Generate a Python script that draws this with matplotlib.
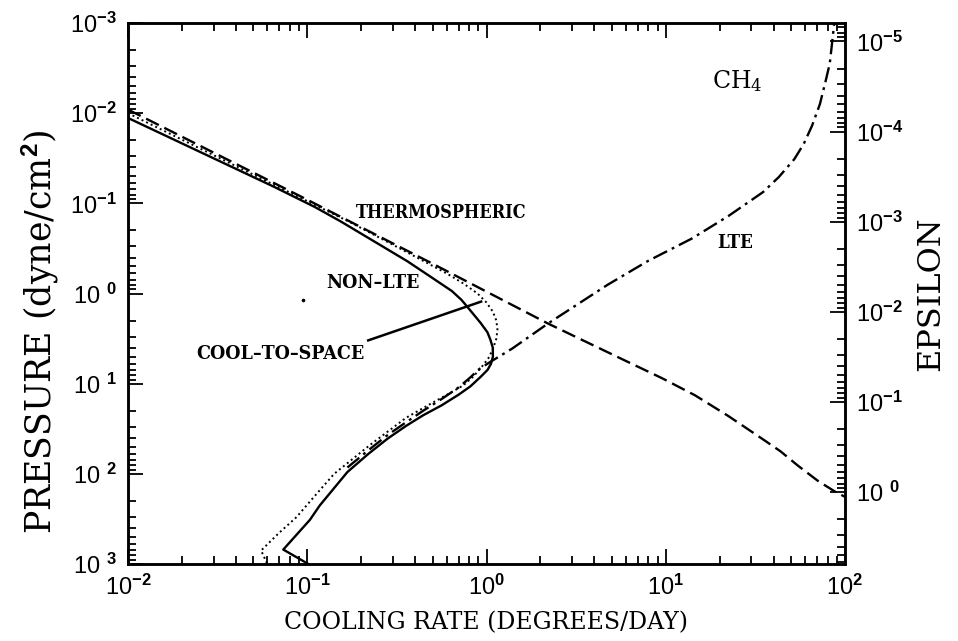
import matplotlib
matplotlib.use("Agg")
import matplotlib.pyplot as plt
from matplotlib.ticker import LogLocator, NullFormatter

plt.rcParams['mathtext.fontset'] = 'custom'
plt.rcParams['mathtext.rm'] = 'Liberation Sans'
plt.rcParams['mathtext.bf'] = 'Liberation Sans:bold'
plt.rcParams['mathtext.it'] = 'DejaVu Serif'

# ---- data (cooling rate [deg/day], pressure [dyne/cm^2]) ----
nonlte_rate = [0.0100, 0.0655, 0.1100, 0.1535, 0.2399, 0.3622, 0.5012, 0.6412,
               0.7244, 0.7834, 0.9268, 1.012, 1.052, 1.084, 1.086, 1.059, 1.014,
               0.9268, 0.8128, 0.7015, 0.5623, 0.4436, 0.3548, 0.2805, 0.2188,
               0.1675, 0.1175, 0.1035, 0.0735, 0.1014]
nonlte_p = [0.0113, 0.0658, 0.1096, 0.1585, 0.2692, 0.4395, 0.6761, 0.9397,
            1.175, 1.413, 2.118, 2.692, 3.266, 3.981, 5.012, 6.026, 7.031,
            8.414, 10.72, 13.18, 17.38, 22.39, 29.51, 40.74, 60.26,
            95.5, 223.9, 323.6, 691.8, 1000]

cts_rate = [0.0100, 0.0631, 0.1698, 0.2818, 0.4266, 0.6026, 0.7447, 0.8913,
            1.000, 1.084, 1.135, 1.151, 1.135, 1.084, 1.023, 0.9441, 0.8453,
            0.7413, 0.6310, 0.5012, 0.3548, 0.2239, 0.1413, 0.1096, 0.0871,
            0.0692, 0.0553, 0.0598]
cts_p = [0.0100, 0.0603, 0.1585, 0.2692, 0.4169, 0.6026, 0.7762, 1.000,
         1.259, 1.585, 1.995, 2.512, 3.162, 4.169, 5.248, 6.457, 8.318,
         10.47, 12.59, 16.22, 23.99, 47.86, 100.0, 177.8, 302.0,
         457.0, 708.0, 1000]

thermo_rate = [0.0100, 0.100, 0.501, 2.203, 3.715, 6.166, 9.55, 14.59, 22.39,
               34.43, 43.65, 54.45, 70.79, 89.13, 100]
thermo_p = [0.00912, 0.0912, 0.468, 2.153, 3.548, 5.754, 8.71, 13.49, 22.91,
            40.74, 56.23, 80.72, 120.2, 160.0, 180.0]

lte_rate = [0.1675, 0.2188, 0.2805, 0.3548, 0.4436, 0.5623, 0.7015, 0.8128,
            0.9078, 1.047, 1.393, 2.203, 4.732, 7.943, 14.0, 22.39, 34.91,
            42.66, 52.12, 58.88, 65.46, 72.44, 77.62, 82.22, 84.72, 87.1]
lte_p = [85.11, 54.95, 37.15, 26.92, 19.95, 14.79, 10.96, 8.511,
         6.918, 5.754, 4.074, 2.153, 0.8017, 0.4365, 0.2455, 0.138, 0.075,
         0.0513, 0.0324, 0.0219, 0.0138, 0.00794, 0.00457, 0.00282, 0.00166, 0.0010]

pointer_rate = [0.2188, 0.933]
pointer_p = [3.311, 1.23]

speck_rate = [0.095]
speck_p = [1.18]

eps_scale = 160.0  # epsilon = pressure / eps_scale

xticks = [1e-2, 1e-1, 1e0, 1e1, 1e2]
xticklabels = [r'10$^{\mathbf{-2}}$', r'10$^{\mathbf{-1}}$', r'10$^{\mathbf{0}}$',
               r'10$^{\mathbf{1}}$', r'10$^{\mathbf{2}}$']
pticks = [1e-3, 1e-2, 1e-1, 1e0, 1e1, 1e2, 1e3]
pticklabels = [r'10$^{\mathbf{-3}}$', r'10$^{\mathbf{-2}}$', r'10$^{\mathbf{-1}}$',
               r'10 $^{\mathbf{0}}$', r'10 $^{\mathbf{1}}$', r'10 $^{\mathbf{2}}$',
               r'10 $^{\mathbf{3}}$']
eticks = [1e-5, 1e-4, 1e-3, 1e-2, 1e-1, 1e0]
eticklabels = [r'10$^{\mathbf{-5}}$', r'10$^{\mathbf{-4}}$', r'10$^{\mathbf{-3}}$',
               r'10$^{\mathbf{-2}}$', r'10$^{\mathbf{-1}}$', r'10 $^{\mathbf{0}}$']

# ---- figure ----
fig = plt.figure(figsize=(9.58, 6.41), dpi=100)
ax = fig.add_axes([128/958, 1-564/641, (845-128)/958, (564-23)/641])
ax.set_xscale('log')
ax.set_yscale('log')
ax.set_xlim(1e-2, 1e2)
ax.set_ylim(1e3, 1e-3)

lw = 1.7
ax.plot(nonlte_rate, nonlte_p, color='black', lw=lw)
ax.plot(cts_rate, cts_p, color='black', lw=1.4, linestyle=(0, (1.0, 1.6)))
ax.plot(thermo_rate, thermo_p, color='black', lw=lw, linestyle=(0, (6.0, 2.6)))
ax.plot(lte_rate, lte_p, color='black', lw=lw, linestyle=(0, (6.5, 2.2, 1.2, 2.2)))
ax.plot(pointer_rate, pointer_p, color='black', lw=1.8)
ax.plot(speck_rate, speck_p, 'o', color='black', ms=1.6)

tbase = dict(family='DejaVu Serif', fontweight='bold', fontstretch='condensed',
             ha='center', va='center')
ax.text(0.561, 0.128, 'THERMOSPHERIC', fontsize=13, **tbase)
ax.text(0.234, 0.763, 'NON\u2013LTE', fontsize=14, **tbase)
ax.text(0.0706, 4.68, 'COOL\u2013TO\u2013SPACE', fontsize=14, **tbase)
ax.text(24.3, 0.275, 'LTE', fontsize=13.5, **tbase)
ax.text(25.2, 0.0044, r'CH$_\mathregular{4}$', family='DejaVu Serif',
        fontsize=17, ha='center', va='center')

for sp in ax.spines.values():
    sp.set_linewidth(1.8)

ax.set_xticks(xticks)
ax.set_xticklabels(xticklabels, fontsize=17, family='Liberation Sans')
ax.xaxis.set_minor_locator(LogLocator(base=10, subs=range(2, 10), numticks=20))
ax.xaxis.set_minor_formatter(NullFormatter())
ax.set_yticks(pticks)
ax.set_yticklabels(pticklabels, fontsize=17, family='Liberation Sans')
ax.yaxis.set_minor_locator(LogLocator(base=10, subs=range(2, 10), numticks=20))
ax.yaxis.set_minor_formatter(NullFormatter())
ax.tick_params(which='both', direction='in', top=True, bottom=True, left=True,
               right=False, width=1.3)
ax.tick_params(which='major', length=11, pad=8)
ax.tick_params(which='minor', length=5.5)

ax.set_xlabel('COOLING RATE (DEGREES/DAY)', family='DejaVu Serif',
              fontsize=17, labelpad=8)
ax.set_ylabel(r'PRESSURE (dyne/cm$^{\mathbf{2}}$)', family='DejaVu Serif',
              fontsize=25)
ax.yaxis.set_label_coords(-0.094, 0.43)

ax2 = ax.twinx()
ax2.set_yscale('log')
ax2.set_ylim(1e3/eps_scale, 1e-3/eps_scale)
ax2.set_yticks(eticks)
ax2.set_yticklabels(eticklabels, fontsize=17, family='Liberation Sans')
ax2.yaxis.set_minor_locator(LogLocator(base=10, subs=range(2, 10), numticks=20))
ax2.yaxis.set_minor_formatter(NullFormatter())
ax2.tick_params(which='both', direction='in', width=1.3)
ax2.tick_params(which='major', length=11, pad=8)
ax2.tick_params(which='minor', length=5.5)
ax2.set_ylabel('EPSILON', family='DejaVu Serif', fontsize=23)
ax2.yaxis.set_label_coords(1.098, 0.5)
for sp in ax2.spines.values():
    sp.set_linewidth(1.8)

fig.savefig('out.png', dpi=100)
